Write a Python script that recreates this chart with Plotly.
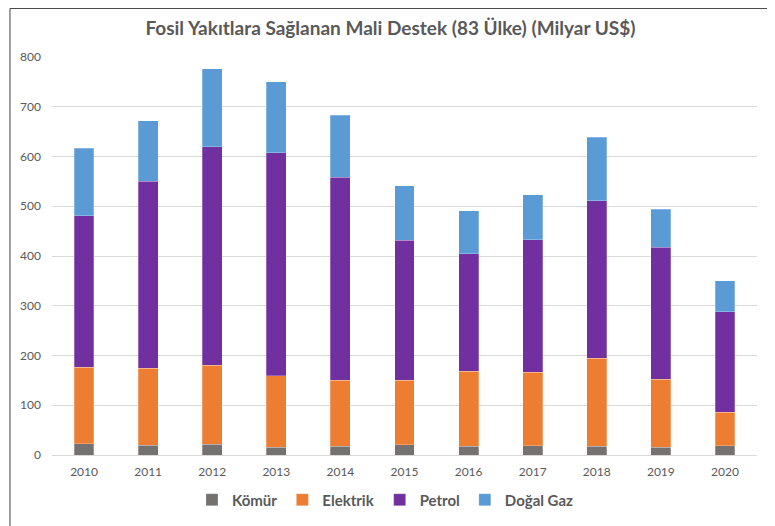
import plotly.graph_objects as go

# Data (segment values, billion US$)
years = ["2010", "2011", "2012", "2013", "2014", "2015", "2016", "2017", "2018", "2019", "2020"]
komur = [23, 20, 22, 16, 18, 21, 18, 19, 18, 16, 19]
elektrik = [153, 154, 158, 143, 132, 129, 150, 147, 176, 136, 67]
petrol = [305, 376, 440, 449, 408, 282, 237, 267, 317, 266, 202]
dogal_gaz = [136, 122, 156, 142, 125, 109, 86, 90, 128, 76, 62]

series = [
    ("Kömür", komur, "#767171"),
    ("Elektrik", elektrik, "#ED7D31"),
    ("Petrol", petrol, "#7030A0"),
    ("Doğal Gaz", dogal_gaz, "#5B9BD5"),
]

fig = go.Figure()
for name, vals, color in series:
    fig.add_trace(go.Bar(
        x=years, y=vals, name=name,
        marker=dict(color=color, line=dict(width=0.5, color="rgba(255,255,255,0.5)")),
    ))

txt = "#595959"
# page body has an 8px margin, so the layout is shifted up/left by 8px
fig.update_layout(
    barmode="stack",
    bargap=0.69,
    width=775, height=526,
    margin=dict(l=44, r=26, t=49, b=79),
    paper_bgcolor="white",
    plot_bgcolor="white",
    font=dict(family="Lato, Carlito, sans-serif", color=txt, size=12),
    title=dict(
        text="<b>Fosil Yakıtlara Sağlanan Mali Destek (83 Ülke) (Milyar US$)</b>",
        x=0.4935, xanchor="center", y=0.962, yanchor="middle",
        font=dict(size=19, color=txt),
    ),
    legend=dict(
        orientation="h", x=0.473, xanchor="center", y=-0.113, yanchor="middle",
        font=dict(size=15, color=txt, family="Lato, sans-serif", weight="bold"),
        traceorder="normal", itemwidth=30,
    ),
    xaxis=dict(
        showgrid=False, showline=True, linecolor="#d9d9d9", linewidth=1,
        ticks="", ticklabelstandoff=6, tickfont=dict(size=12, color=txt),
    ),
    yaxis=dict(
        range=[0, 800], dtick=100, showgrid=True, gridcolor="#d9d9d9", gridwidth=1,
        zeroline=True, zerolinecolor="#d9d9d9", zerolinewidth=1,
        ticks="", ticklabelstandoff=10, tickfont=dict(size=12, color=txt),
    ),
    shapes=[
        dict(type="line", xref="paper", yref="paper", x0=-0.0596, x1=-0.0596, y0=1.122, y1=-0.25,
             line=dict(color="#404040", width=1)),
        dict(type="line", xref="paper", yref="paper", x0=-0.0596, x1=1.0199, y0=1.122, y1=1.122,
             line=dict(color="#404040", width=1)),
        dict(type="line", xref="paper", yref="paper", x0=1.0199, x1=1.0199, y0=1.122, y1=-0.25,
             line=dict(color="#bfbfbf", width=1)),
    ],
)

fig.write_html("out.html")
